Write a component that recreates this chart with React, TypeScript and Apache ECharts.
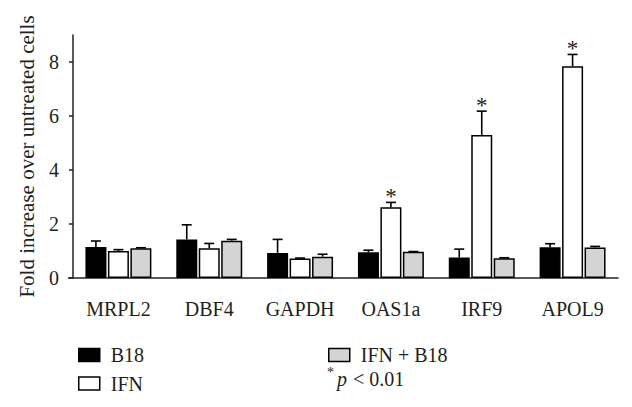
import React, { useEffect, useRef } from "react";
import * as echarts from "echarts";

const categories = ["MRPL2", "DBF4", "GAPDH", "OAS1a", "IRF9", "APOL9"];
const seriesNames = ["B18", "IFN", "IFN + B18"];
const b18Values = [1.15, 1.43, 0.93, 0.95, 0.76, 1.14];
const b18ErrTop = [1.37, 1.97, 1.43, 1.03, 1.07, 1.27];
const ifnValues = [1.0, 1.1, 0.72, 2.62, 5.3, 7.84];
const ifnErrTop = [1.05, 1.28, 0.74, 2.8, 6.18, 8.28];
const comboValues = [1.1, 1.38, 0.79, 0.97, 0.73, 1.13];
const comboErrTop = [1.12, 1.43, 0.88, 0.98, 0.75, 1.17];
const ifnSignificant = [0, 0, 0, 1, 1, 1];
const yTicks = [0, 2, 4, 6, 8];

const FONT = "'Liberation Serif', 'DejaVu Serif', serif";
const TEXT = "#231f20";
const colors = ["#000000", "#ffffff", "#d4d4d4"];
const BAR_W = 21;
const SPACING = 22.5;

export default function App() {
  const ref = useRef<HTMLDivElement>(null);
  useEffect(() => {
    if (!ref.current) return;
    const chart = echarts.init(ref.current, null, { renderer: "svg" });
    const values = [b18Values, ifnValues, comboValues];
    const errs = [b18ErrTop, ifnErrTop, comboErrTop];

    const barSeries = seriesNames.map((name, si) => ({
      name,
      type: "bar",
      data: values[si],
      barWidth: BAR_W,
      barGap: "7%",
      itemStyle: { color: colors[si], borderColor: "#000", borderWidth: 1.5 },
      z: 2,
    }));

    const errSeries = seriesNames.map((name, si) => ({
      name: name + " err",
      type: "custom",
      z: 3,
      data: categories.map((_, i) => [i, values[si][i], errs[si][i], si === 1 ? ifnSignificant[i] : 0]),
      encode: { x: 0, y: [1, 2] },
      renderItem: (params: any, api: any) => {
        const ci = api.value(0);
        const v = api.value(1);
        const e = api.value(2);
        const sig = api.value(3);
        const base = api.coord([ci, v]);
        const top = api.coord([ci, e]);
        const x = base[0] + (si - 1) * SPACING;
        const children: any[] = [
          { type: "line", shape: { x1: x, y1: base[1], x2: x, y2: top[1] }, style: { stroke: "#000", lineWidth: 1.6 } },
          { type: "line", shape: { x1: x - 5, y1: top[1], x2: x + 5, y2: top[1] }, style: { stroke: "#000", lineWidth: 1.6 } },
        ];
        if (sig) {
          children.push({
            type: "text",
            style: {
              text: "*",
              x: x,
              y: top[1] - 6,
              align: "center",
              verticalAlign: "middle",
              fontSize: 23,
              fontFamily: FONT,
              fill: TEXT,
            },
          });
        }
        return { type: "group", children };
      },
    }));

    const legendCommon = {
      orient: "vertical",
      top: 340,
      itemWidth: 21,
      itemHeight: 13,
      itemGap: 8.5,
      icon: "rect",
      textStyle: { fontFamily: FONT, fontSize: 20, color: TEXT, padding: [0, 0, 0, 6] },
      itemStyle: { borderColor: "#000", borderWidth: 1.5 },
      selectedMode: false,
    };

    chart.setOption({
      animation: false,
      backgroundColor: "#fff",
      grid: { left: 73, right: 14, top: 35, bottom: 129 },
      legend: [
        { ...legendCommon, data: ["B18", "IFN"], left: 73 },
        { ...legendCommon, data: ["IFN + B18"], left: 323 },
      ],
      graphic: [
        {
          type: "line",
          shape: { x1: 68, y1: 278, x2: 73, y2: 278 },
          style: { stroke: "#222", lineWidth: 1.5 },
        },
        {
          type: "text",
          x: 327,
          y: 372,
          style: { text: "*", fontFamily: FONT, fontSize: 14, fill: TEXT, align: "left", verticalAlign: "middle" },
        },
        {
          type: "text",
          x: 337,
          y: 379,
          style: { text: "p", fontFamily: FONT, fontSize: 20, fontStyle: "italic", fill: TEXT, align: "left", verticalAlign: "middle" },
        },
        {
          type: "text",
          x: 353,
          y: 379,
          style: { text: "< 0.01", fontFamily: FONT, fontSize: 20, fill: TEXT, align: "left", verticalAlign: "middle" },
        },
      ],
      xAxis: {
        type: "category",
        data: categories,
        axisLine: { lineStyle: { color: "#222", width: 1.5 } },
        axisTick: { alignWithLabel: true, length: 5, lineStyle: { color: "#222", width: 1.5 } },
        axisLabel: { fontFamily: FONT, fontSize: 20, color: TEXT, margin: 21 },
      },
      yAxis: {
        type: "value",
        min: 0,
        max: 9,
        interval: 2,
        name: "Fold increase over untreated cells",
        nameLocation: "middle",
        nameGap: 36,
        nameTextStyle: { fontFamily: FONT, fontSize: 21, color: TEXT },
        axisLine: { show: true, lineStyle: { color: "#222", width: 1.5 } },
        axisTick: { show: true, length: 4, lineStyle: { color: "#222", width: 1.5 } },
        splitLine: { show: false },
        axisLabel: {
          fontFamily: FONT,
          fontSize: 20,
          color: TEXT,
          margin: 14,
          showMaxLabel: false,
          formatter: (v: number) => (yTicks.includes(v) ? String(v) : ""),
        },
      },
      series: [...barSeries, ...errSeries],
    });
    return () => chart.dispose();
  }, []);
  return (
    <div style={{ position: "fixed", left: 0, top: 0, width: 632, height: 407, background: "#fff" }}>
      <div ref={ref} style={{ width: 632, height: 407 }} />
    </div>
  );
}
